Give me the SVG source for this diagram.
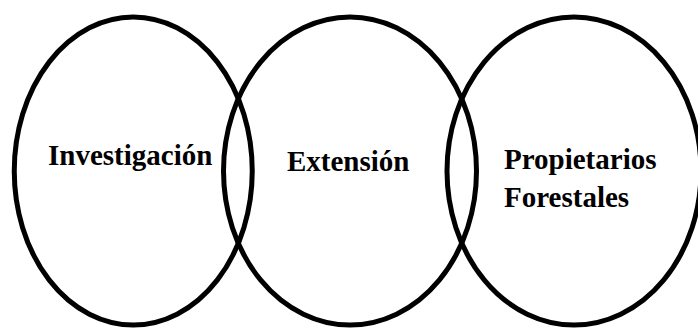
<svg xmlns="http://www.w3.org/2000/svg" width="698" height="329" viewBox="0 0 698 329">
<style>
.c{fill:none;stroke:#000;stroke-width:5}
.t{font-family:"Liberation Serif","Times New Roman",serif;font-weight:bold;font-size:29px;fill:#000}
</style>
<rect width="698" height="329" fill="#fff"/>
<g id="connectors"></g>
<g id="investigacion"><ellipse class="c" cx="133.25" cy="171" rx="119" ry="154"/><text class="t" x="48" y="165">Investigación</text></g>
<g id="extension"><ellipse class="c" cx="350" cy="171" rx="126.5" ry="154"/><text class="t" x="287" y="171">Extensión</text></g>
<g id="propietarios"><ellipse class="c" cx="574" cy="171" rx="127" ry="154"/><text class="t" x="504" y="169">Propietarios</text><text class="t" x="504" y="207">Forestales</text></g>
</svg>
